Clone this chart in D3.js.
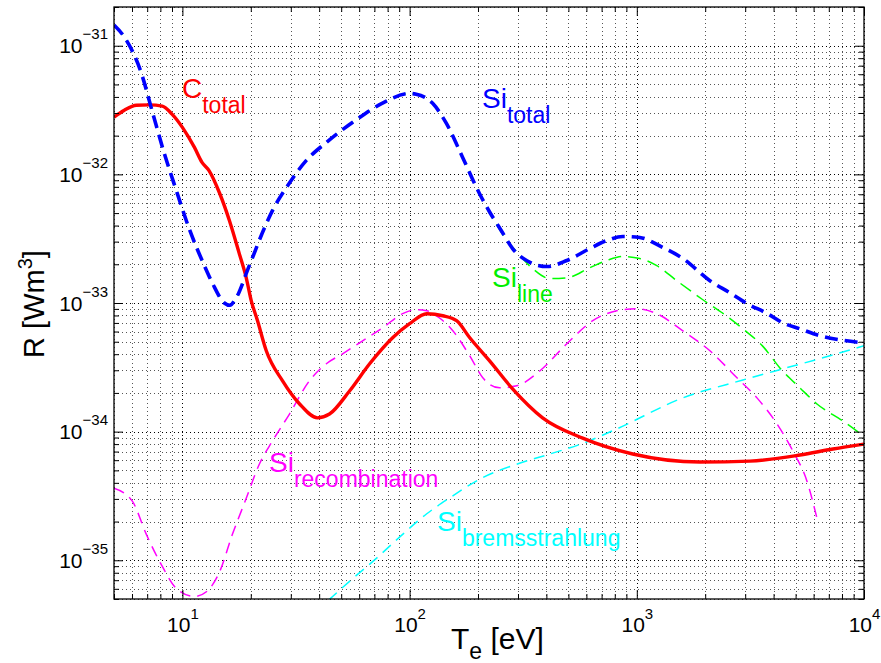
<!DOCTYPE html>
<html>
<head>
<meta charset="utf-8">
<script src="https://cdn.jsdelivr.net/npm/d3@7"></script>
<style>
  body { margin: 0; background: #fff; }
  svg { display: block; font-family: Arial, "Liberation Sans", Helvetica, sans-serif; }
</style>
</head>
<body>
<svg id="chart" width="881" height="663"></svg>
<script>
// data: [Te in eV, R in W m^3]
const siTotal = [
  [5, 1.45e-31], [5.55, 1.17e-31], [6.6, 6.1e-32], [7.4, 3.0e-32], [8.3, 1.48e-32],
  [9.4, 7.5e-33], [10.7, 3.8e-33], [12.5, 1.95e-33], [13.6, 1.41e-33], [15.3, 1.0e-33],
  [16.2, 9.6e-34], [17, 1.05e-33], [19.7, 1.95e-33], [23, 3.86e-33], [25, 5.3e-33],
  [28.7, 7.9e-33], [35.2, 1.29e-32], [43, 1.77e-32], [58, 2.64e-32],
  [76, 3.58e-32], [100, 4.25e-32], [107, 4.2e-32], [126, 3.58e-32], [145, 2.5e-32],
  [171, 1.36e-32], [203, 7.1e-33], [225, 5.1e-33], [241, 4.2e-33], [257, 3.5e-33],
  [284, 2.65e-33], [330, 2.12e-33], [402, 1.92e-33], [492, 2.14e-33], [621, 2.65e-33],
  [738, 3.06e-33], [868, 3.29e-33], [1031, 3.23e-33], [1302, 2.7e-33], [1595, 2.22e-33],
  [2098, 1.49e-33], [2570, 1.2e-33], [3055, 9.9e-34], [3741, 8.3e-34], [4398, 7.0e-34],
  [5224, 6.3e-34], [6400, 5.56e-34], [7836, 5.17e-34], [10000, 4.9e-34]
]

const siLine = [
  [5, 1.45e-31], [5.55, 1.17e-31], [6.6, 6.1e-32], [7.4, 3.0e-32], [8.3, 1.48e-32],
  [9.4, 7.5e-33], [10.7, 3.8e-33], [12.5, 1.95e-33], [13.6, 1.41e-33], [15.3, 1.0e-33],
  [16.2, 9.6e-34], [17, 1.05e-33], [19.7, 1.95e-33], [23, 3.86e-33], [25, 5.3e-33],
  [28.7, 7.9e-33], [35.2, 1.29e-32], [43, 1.77e-32], [58, 2.64e-32],
  [76, 3.58e-32], [100, 4.25e-32], [107, 4.2e-32], [126, 3.58e-32], [145, 2.5e-32],
  [171, 1.36e-32], [203, 7.1e-33], [225, 5.0e-33], [241, 4.1e-33], [257, 3.4e-33],
  [296, 2.5e-33], [348, 1.85e-33], [414, 1.55e-33], [492, 1.57e-33], [621, 1.88e-33],
  [738, 2.14e-33], [868, 2.3e-33], [1031, 2.22e-33], [1225, 1.95e-33], [1500, 1.49e-33],
  [1953, 1.06e-33], [2490, 7.9e-34], [2930, 6.3e-34], [3590, 4.6e-34], [4264, 3.13e-34],
  [5224, 2.19e-34], [6209, 1.64e-34], [8079, 1.21e-34], [10000, 9.2e-35]
]

const siRecomb = [
  [5, 3.63e-35], [6.02, 2.88e-35], [6.94, 1.59e-35], [8.16, 8.95e-36], [9.41, 6.04e-36],
  [11.3, 5.23e-36], [12.8, 5.72e-36], [14.6, 8.18e-36], [16.6, 1.59e-35], [19.1, 3.03e-35],
  [21.8, 5.58e-35], [24.9, 8.45e-35], [29.6, 1.37e-34], [36.2, 2.48e-34], [43, 3.37e-34],
  [50.7, 4.03e-34], [62.1, 5.08e-34], [76.1, 6.42e-34], [93.2, 8.26e-34], [107, 8.87e-34],
  [119, 8.7e-34], [135, 7.68e-34], [155, 6.08e-34], [184, 3.88e-34], [210, 2.62e-34],
  [249, 2.19e-34], [296, 2.27e-34], [374, 2.96e-34], [492, 4.82e-34], [640, 7.28e-34],
  [816, 8.7e-34], [1000, 9.02e-34], [1225, 8.26e-34], [1595, 6.08e-34], [2098, 4.25e-34],
  [2760, 2.62e-34], [3380, 1.83e-34], [4140, 1.15e-34], [4866, 7.06e-35], [5610, 4.12e-35],
  [6209, 2.12e-35]
]

const siBrems = [
  [44, 4.9e-36], [54.4, 6.86e-36], [71.6, 1.04e-35], [93.2, 1.59e-35], [119, 2.3e-35],
  [150, 3.05e-35], [210, 4.4e-35], [296, 5.58e-35], [414, 6.7e-35], [578, 8.1e-35],
  [816, 1.05e-34], [1595, 1.83e-34], [2930, 2.52e-34], [4398, 3.08e-34], [6590, 3.75e-34],
  [10000, 4.65e-34]
]

const cTotal = [
  [5, 2.78e-32], [5.55, 3.15e-32], [6.27, 3.45e-32], [7.15, 3.47e-32], [8.16, 3.39e-32],
  [9, 2.94e-32], [10, 2.32e-32], [11.3, 1.62e-32], [12.2, 1.24e-32], [13.1, 1.07e-32],
  [14.6, 7.1e-33], [16.1, 4.38e-33], [17.8, 2.42e-33], [19.1, 1.57e-33], [20.1, 1.04e-33],
  [21.4, 7.3e-34], [23.4, 4.25e-34], [27.6, 2.48e-34], [32.8, 1.64e-34], [39.3, 1.28e-34],
  [44.4, 1.37e-34], [54.4, 2.07e-34], [66.7, 3.37e-34], [84.2, 5.37e-34], [100, 6.9e-34],
  [119, 8.26e-34], [140, 7.96e-34], [161, 7.28e-34], [184, 5.37e-34], [225, 3.55e-34],
  [284, 2.15e-34], [385, 1.28e-34], [578, 8.9e-35], [960, 6.7e-35], [1896, 5.8e-35],
  [3148, 5.9e-35], [5224, 6.58e-35], [7300, 7.33e-35], [10000, 8.0e-35]
]

const xMajor = [10, 100, 1000, 10000]
const yMajor = [1e-35, 1e-34, 1e-33, 1e-32, 1e-31]

const labels = [
  { main: "C", sub: "total", x: 182, y: 98, color: "#ff0000" },
  { main: "Si", sub: "total", x: 482, y: 108, color: "#0000ff" },
  { main: "Si", sub: "line", x: 492, y: 287, color: "#00ee00" },
  { main: "Si", sub: "recombination", x: 269, y: 472, color: "#ff00ff" },
  { main: "Si", sub: "bremsstrahlung", x: 437, y: 531, color: "#00ffff" }
]

const plotLeft = 114, plotRight = 864, plotTop = 7, plotBottom = 599

const x = d3.scaleLog().domain([5, 1e4]).range([plotLeft, plotRight])
const y = d3.scaleLog().domain([5e-36, 2e-31]).range([plotBottom, plotTop])

const isMajor = v => Math.abs(Math.log10(v) - Math.round(Math.log10(v))) < 1e-6
const xMinor = x.ticks().filter(v => !isMajor(v))
const yMinor = y.ticks().filter(v => !isMajor(v))

const svg = d3.select("#chart")

// dotted grid, major and minor
const grid = svg.append("g")
grid.selectAll("line.vx")
  .data(x.ticks())
  .enter()
  .append("line")
    .attr("x1", d => Math.round(x(d)) + 0.5).attr("x2", d => Math.round(x(d)) + 0.5)
    .attr("y1", plotTop).attr("y2", plotBottom)
    .attr("stroke", d => isMajor(d) ? "#000" : "#555")
    .attr("stroke-dasharray", "1,3")
grid.selectAll("line.hy")
  .data(y.ticks())
  .enter()
  .append("line")
    .attr("y1", d => Math.round(y(d)) + 0.5).attr("y2", d => Math.round(y(d)) + 0.5)
    .attr("x1", plotLeft).attr("x2", plotRight)
    .attr("stroke", d => isMajor(d) ? "#000" : "#555")
    .attr("stroke-dasharray", "1,3")

svg.append("clipPath").attr("id", "plot-clip")
  .append("rect")
    .attr("x", plotLeft).attr("y", plotTop)
    .attr("width", plotRight - plotLeft).attr("height", plotBottom - plotTop)

const line = d3.line()
  .x(d => x(d[0]))
  .y(d => y(d[1]))
  .curve(d3.curveMonotoneX)

// green shares the blue dash rhythm so it hides under it where the two coincide
const curves = [
  { data: siLine, color: "#00ff00", width: 1.5, dash: "13,7" },
  { data: siRecomb, color: "#ff00ff", width: 1.5, dash: "11,7" },
  { data: siBrems, color: "#00ffff", width: 1.5, dash: "11,7" },
  { data: cTotal, color: "#ff0000", width: 3.4, dash: null },
  { data: siTotal, color: "#0000ff", width: 3.6, dash: "13,7" }
]

svg.append("g")
  .attr("clip-path", "url(#plot-clip)")
  .selectAll("path")
  .data(curves)
  .enter()
  .append("path")
    .attr("d", d => line(d.data))
    .attr("fill", "none")
    .attr("stroke", d => d.color)
    .attr("stroke-width", d => d.width)
    .attr("stroke-dasharray", d => d.dash)

// axes box with inward ticks on all four sides
const expText = v => {
  const e = Math.round(Math.log10(v))
  return e < 0 ? "\u2212" + (-e) : String(e)
}

const addAxis = (axisFn, scale, transform, major, minor) => {
  svg.append("g")
    .attr("transform", transform)
    .call(axisFn(scale).tickValues(minor).tickSize(-5).tickFormat(""))
    .call(g => g.select(".domain").remove())
  return svg.append("g")
    .attr("transform", transform)
    .call(axisFn(scale).tickValues(major).tickSize(-9).tickFormat(""))
    .call(g => g.select(".domain").remove())
}

const bottomAxis = addAxis(d3.axisBottom, x, `translate(0,${plotBottom})`, xMajor, xMinor)
addAxis(d3.axisTop, x, `translate(0,${plotTop})`, xMajor, xMinor)
const leftAxis = addAxis(d3.axisLeft, y, `translate(${plotLeft},0)`, yMajor, yMinor)
addAxis(d3.axisRight, y, `translate(${plotRight},0)`, yMajor, yMinor)

svg.selectAll(".tick line").attr("stroke", "#000").attr("stroke-width", 1)

bottomAxis.selectAll(".tick text")
  .attr("y", 33).attr("dy", 0)
  .attr("font-size", 21).attr("fill", "#000")
  .attr("font-family", "Arial, 'Liberation Sans', sans-serif")
  .each(function(d) {
    const t = d3.select(this)
    t.append("tspan").text("10")
    t.append("tspan").attr("dy", -13).attr("font-size", 15).text(expText(d))
  })

leftAxis.selectAll(".tick text")
  .attr("x", -6).attr("dy", 7)
  .attr("font-size", 21).attr("fill", "#000")
  .attr("font-family", "Arial, 'Liberation Sans', sans-serif")
  .each(function(d) {
    const t = d3.select(this)
    t.append("tspan").text("10")
    t.append("tspan").attr("dy", -14).attr("font-size", 15).text(expText(d))
  })

svg.append("rect")
  .attr("x", plotLeft).attr("y", plotTop)
  .attr("width", plotRight - plotLeft).attr("height", plotBottom - plotTop)
  .attr("fill", "none").attr("stroke", "#000").attr("stroke-width", 1.3)

// curve labels
labels.forEach(l => {
  const t = svg.append("text")
    .attr("x", l.x).attr("y", l.y)
    .attr("fill", l.color)
  t.append("tspan").attr("font-size", 28).text(l.main)
  t.append("tspan").attr("font-size", 23).attr("dy", 15).text(l.sub)
})

// axis titles
const xt = svg.append("text").attr("x", 451).attr("y", 649).attr("font-size", 30)
xt.append("tspan").text("T")
xt.append("tspan").attr("font-size", 23).attr("dy", 10).text("e")
xt.append("tspan").attr("dy", -10).text(" [eV]")

const yt = svg.append("text")
  .attr("transform", "translate(44,304) rotate(-90)")
  .attr("text-anchor", "middle")
  .attr("font-size", 29)
yt.append("tspan").text("R [Wm")
yt.append("tspan").attr("font-size", 20).attr("dy", -12).text("3")
yt.append("tspan").attr("dy", 12).text("]")
</script>
</body>
</html>
